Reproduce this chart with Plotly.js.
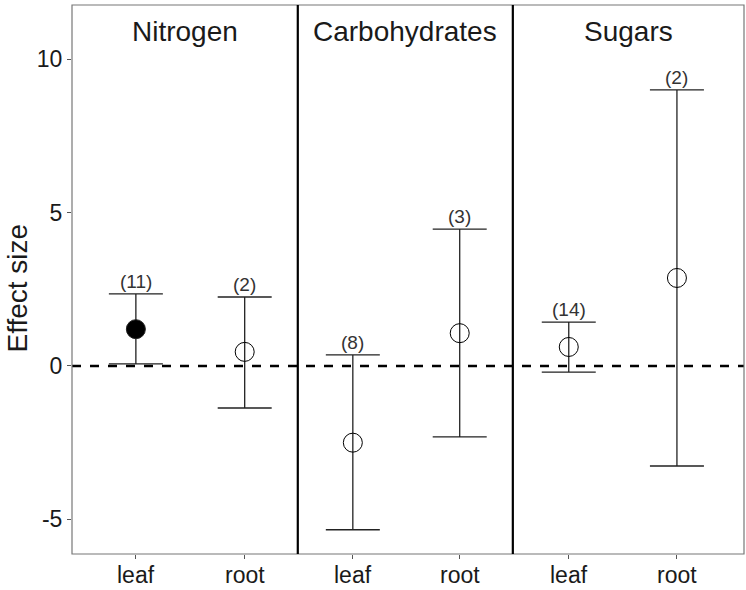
<!DOCTYPE html>
<html>
<head>
<meta charset="utf-8">
<script src="https://cdn.plot.ly/plotly-3.0.1.min.js"></script>
<style>
  body { margin: 0; background: #fff; }
  #chart { width: 746px; height: 590px; }
</style>
</head>
<body>
<div id="chart"></div>
<script>
// facet panels and the tissue categories inside each one
const panels = ["Nitrogen", "Carbohydrates", "Sugars"];
const tissues = ["leaf", "root"];

// effect sizes per panel: [leaf, root]
const means = [[1.2, 0.46], [-2.5, 1.07], [0.62, 2.87]];
const upper = [[2.35, 2.25], [0.36, 4.46], [1.43, 9.0]];
const lower = [[0.07, -1.37], [-5.34, -2.31], [-0.2, -3.26]];
const nLabels = [["(11)", "(2)"], ["(8)", "(3)"], ["(14)", "(2)"]];
// filled = significant
const filled = [[true, false], [false, false], [false, false]];

const yTicks = [-5, 0, 5, 10];
const domains = [[0, 0.336], [0.336, 0.656], [0.656, 1]];
const xRanges = [[-0.587, 1.488], [-0.515, 1.497], [-0.517, 1.62]];

const font = "Liberation Sans, Arial, sans-serif";
const traces = [];
const annotations = [];
const layout = {
  width: 746,
  height: 590,
  margin: {l: 72, r: 2, t: 5, b: 36},
  paper_bgcolor: "#fff",
  plot_bgcolor: "#fff",
  showlegend: false,
  font: {family: font, color: "#1a1a1a"},
  yaxis: {
    range: [-6.13, 11.77],
    tickvals: yTicks,
    ticktext: yTicks.map(String),
    ticks: "outside",
    ticklen: 4,
    tickcolor: "#555",
    showgrid: false,
    zeroline: false,
    showline: false,
    tickfont: {size: 23, color: "#1a1a1a"}
  },
  shapes: [],
  annotations: annotations
};

panels.forEach((name, p) => {
  const ax = p === 0 ? "x" : "x" + (p + 1);
  const axKey = p === 0 ? "xaxis" : "xaxis" + (p + 1);
  layout[axKey] = {
    domain: domains[p],
    range: xRanges[p],
    tickvals: [0, 1],
    showticklabels: false,
    ticks: "outside",
    ticklen: 4,
    tickcolor: "#555",
    showgrid: false,
    zeroline: false,
    showline: false,
    anchor: "y"
  };

  traces.push({
    type: "scatter",
    mode: "markers",
    xaxis: ax,
    yaxis: "y",
    x: [0, 1],
    y: means[p],
    marker: {
      size: 19,
      color: "#000",
      symbol: filled[p].map(f => f ? "circle" : "circle-open"),
      line: {color: "#222", width: 1}
    },
    error_y: {
      type: "data",
      symmetric: false,
      array: upper[p].map((u, i) => u - means[p][i]),
      arrayminus: lower[p].map((l, i) => means[p][i] - l),
      color: "#222",
      thickness: 1.3,
      width: 27
    },
    hoverinfo: "skip"
  });

  tissues.forEach((t, i) => {
    // sample size above the upper cap
    annotations.push({
      xref: ax, yref: "y",
      x: i, y: upper[p][i],
      text: nLabels[p][i],
      showarrow: false,
      xanchor: "center",
      yanchor: "bottom",
      yshift: 0,
      font: {size: 19, color: "#333", family: font}
    });
    // category label under the axis
    annotations.push({
      xref: ax, yref: "paper",
      x: i, y: 0,
      text: t,
      showarrow: false,
      xanchor: "center",
      yanchor: "top",
      yshift: -6,
      font: {size: 23, color: "#1a1a1a", family: font}
    });
  });

  annotations.push({
    xref: "paper", yref: "paper",
    x: (domains[p][0] + domains[p][1]) / 2,
    y: 0.952,
    text: name,
    showarrow: false,
    xanchor: "center",
    yanchor: "middle",
    font: {size: 28, color: "#1a1a1a", family: font}
  });
});

// y axis title
annotations.push({
  xref: "paper", yref: "paper",
  x: 0, y: 0.5,
  xshift: -55, yshift: -9,
  text: "Effect size",
  textangle: -90,
  showarrow: false,
  xanchor: "center",
  yanchor: "middle",
  font: {size: 28, color: "#1a1a1a", family: font}
});

// dashed zero reference line across all panels
layout.shapes.push({
  type: "line", xref: "paper", yref: "y",
  x0: 0, x1: 1, y0: 0, y1: 0,
  line: {color: "#000", width: 2.5, dash: "dash"}
});
// outer frame
layout.shapes.push({
  type: "rect", xref: "paper", yref: "paper",
  x0: 0, x1: 1, y0: 0, y1: 1,
  line: {color: "#777", width: 1.2}
});
// panel dividers
[domains[1][0], domains[2][0]].forEach(xv => {
  layout.shapes.push({
    type: "line", xref: "paper", yref: "paper",
    x0: xv, x1: xv, y0: 0, y1: 1,
    line: {color: "#000", width: 2.2}
  });
});

Plotly.newPlot("chart", traces, layout, {displayModeBar: false, staticPlot: true});
</script>
</body>
</html>
